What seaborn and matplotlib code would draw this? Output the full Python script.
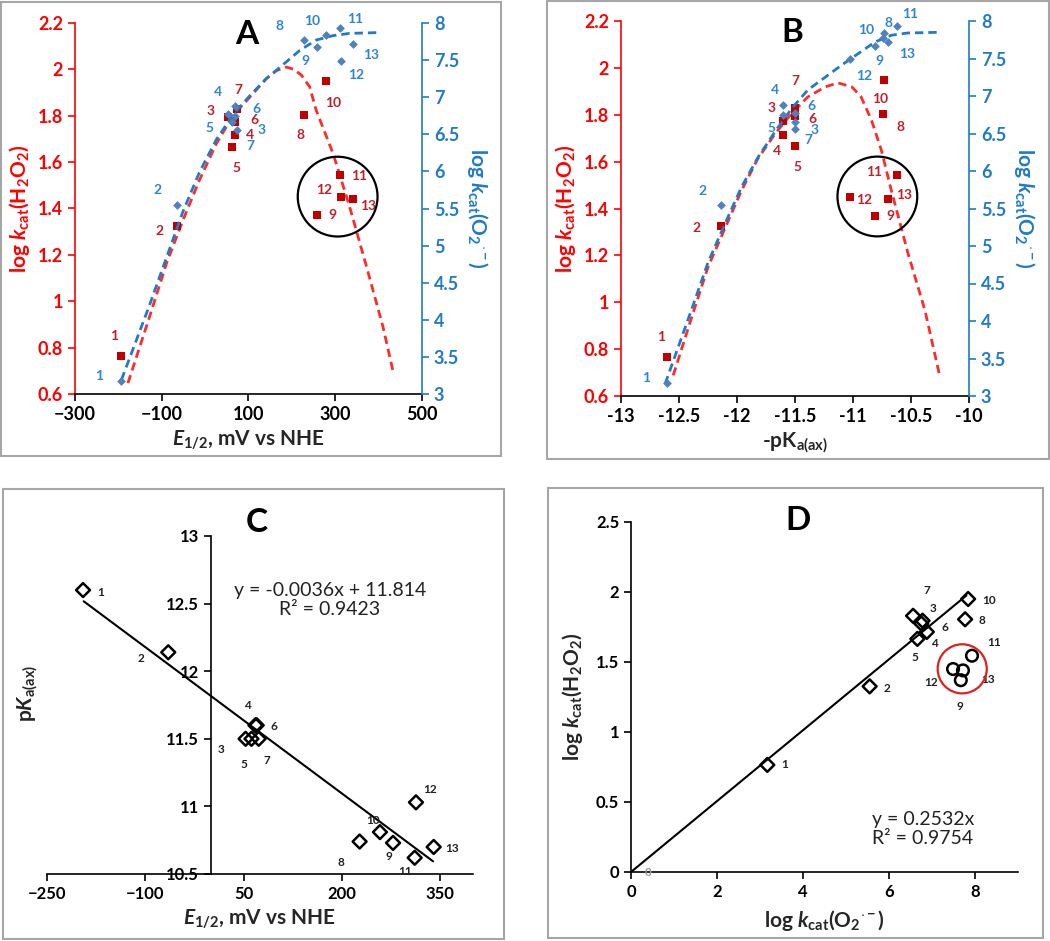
import matplotlib
matplotlib.use("Agg")
import matplotlib.pyplot as plt
from matplotlib.patches import Rectangle
import numpy as np
import seaborn as sns

# compounds 1-13
compound = [str(i) for i in range(1, 14)]
e_half = [-195, -65, 68, 70, 62, 53, 73, 227, 258, 278, 311, 313, 340]
pka_ax = [12.60, 12.14, 11.60, 11.60, 11.50, 11.50, 11.50, 10.74, 10.81, 10.73, 10.62, 11.03, 10.70]
log_kcat_h2o2 = [0.765, 1.326, 1.775, 1.715, 1.665, 1.795, 1.830, 1.805, 1.370, 1.950, 1.545, 1.450, 1.440]
log_kcat_o2 = [3.17, 5.55, 6.75, 6.88, 6.66, 6.78, 6.56, 7.77, 7.67, 7.84, 7.93, 7.49, 7.72]
circled = ["9", "11", "12", "13"]
neg_pka = [-p for p in pka_ax]

curve_a_red_x = [-178, -128, -89, -51, -13, 26, 64, 103, 141, 165, 187, 205, 222, 241, 256, 295, 333, 372, 410, 435]
curve_a_red_y = [0.647, 0.934, 1.164, 1.35, 1.523, 1.68, 1.80, 1.88, 1.960, 1.995, 2.010, 2.000, 1.975, 1.925,
                 1.824, 1.637, 1.408, 1.15, 0.89, 0.683]
curve_a_blue_x = [-193, -128, -89, -51, -13, 26, 64, 103, 141, 180, 218, 256, 295, 333, 395]
curve_a_blue_y = [3.19, 4.20, 4.84, 5.46, 5.99, 6.43, 6.76, 7.02, 7.25, 7.44, 7.63, 7.77, 7.83, 7.86, 7.87]
curve_b_red_x = [-12.55, -12.39, -12.25, -12.10, -11.96, -11.82, -11.67, -11.53, -11.39, -11.24, -11.13,
                 -11.01, -10.93, -10.84, -10.755, -10.67, -10.525, -10.38, -10.25]
curve_b_red_y = [0.688, 0.937, 1.15, 1.32, 1.478, 1.613, 1.72, 1.805, 1.876, 1.919, 1.936,
                 1.919, 1.876, 1.776, 1.648, 1.478, 1.207, 0.966, 0.68]
curve_b_blue_x = [-12.62, -12.39, -12.25, -12.10, -11.96, -11.82, -11.67, -11.53, -11.39, -11.24, -11.10,
                  -10.96, -10.81, -10.67, -10.53, -10.24]
curve_b_blue_y = [3.16, 4.16, 4.78, 5.31, 5.79, 6.18, 6.53, 6.83, 7.08, 7.25, 7.41, 7.56, 7.72, 7.81, 7.84, 7.85]

# trend lines
fit_c_x = [-194, 339]
fit_c_y = [12.517, 10.594]
fit_d_x = [0, 7.8]
fit_d_y = [0, 1.975]

# label offsets in pixels (dx, dy)
off_a_red = [(-6, 20), (-17, -5), (-24, 11), (14, 0), (4, -21), (26, -3), (2, 19), (-3, -20), (15, 0),
             (7, -22), (19, -1), (-17, 7), (15, -7)]
off_a_blue = [(-21, 5), (-19, 15), (27, -14), (-18, 14), (-23, -6), (28, 5), (14, -16), (-24, 14),
              (-12, -14), (-14, 14), (15, 9), (15, -14), (18, -11)]
off_b_red = [(-6, 20), (-24, -2), (-12, 13), (-6, -16), (2, -21), (17, -3), (0, 27), (17, -13), (15, 0),
             (-4, -19), (-23, 3), (15, -3), (16, 4)]
off_b_blue = [(-21, 5), (-18, 14), (31, -15), (-8, 15), (-24, -6), (16, 7), (13, -11), (5, 15), (4, -15),
              (-18, 3), (13, 12), (15, -17), (19, -12)]
off_c = [(18, -2), (-27, -6), (-34, -24), (-9, 20), (-8, -26), (28, 12), (8, -22), (-19, -21), (9, -24),
         (-20, 22), (-10, -14), (14, 13), (18, -2)]
off_d = [(17, 0), (17, -2), (12, 15), (8, -12), (-3, -19), (22, -7), (14, 25), (17, -1), (-1, -26),
         (21, -1), (22, 13), (-22, -14), (25, -9)]

RED = "#FF0000"
DARKRED = "#C00000"
BLUE = "#1F7BC8"
BLUE_MK = "#4F81BD"

sns.set_theme(style="white")
plt.rcParams["font.family"] = ["Lato", "DejaVu Sans"]
plt.rcParams["font.weight"] = "bold"
plt.rcParams["axes.labelweight"] = "bold"
plt.rcParams["mathtext.fontset"] = "custom"
plt.rcParams["mathtext.rm"] = "Lato:bold"
plt.rcParams["mathtext.it"] = "Lato:bold:italic"
plt.rcParams["mathtext.bf"] = "Lato:bold"

W, H = 1050, 941
fig = plt.figure(figsize=(W / 100, H / 100), dpi=100)


def add_ax(left, right, top, bottom):
    return fig.add_axes([left / W, 1 - bottom / H, (right - left) / W, (bottom - top) / H])


def label_points(ax, xs, ys, offsets, color, size):
    for name, x, y, (dx, dy) in zip(compound, xs, ys, offsets):
        ax.annotate(name, (x, y), xytext=(dx, dy), textcoords="offset pixels",
                    ha="center", va="center", color=color, fontsize=size, fontweight="bold")


def circle_mark(ax, xs, ys, size, color):
    idx = [compound.index(c) for c in circled]
    cx = np.mean([xs[i] for i in idx])
    cy = np.mean([ys[i] for i in idx])
    ax.scatter([cx], [cy], s=size, facecolors="none", edgecolors=color, linewidths=1.6, zorder=5)


def dual_panel(ax, x, xlim, xticks, red_cx, red_cy, blue_cx, blue_cy, off_r, off_b, xlabel):
    ax2 = ax.twinx()
    sns.lineplot(x=red_cx, y=red_cy, sort=False, ax=ax, color="#FF2A2A", lw=2, dashes=(3, 1.8))
    sns.scatterplot(x=x, y=log_kcat_h2o2, ax=ax, marker="s", s=38, color=DARKRED, linewidth=0, zorder=4)
    sns.lineplot(x=blue_cx, y=blue_cy, sort=False, ax=ax2, color=BLUE, lw=2, dashes=(3, 1.8))
    sns.scatterplot(x=x, y=log_kcat_o2, ax=ax2, marker="D", s=20, color=BLUE_MK, linewidth=0, zorder=4)
    label_points(ax, x, log_kcat_h2o2, off_r, "#C0202A", 10)
    label_points(ax2, x, log_kcat_o2, off_b, "#2E86D0", 10)
    circle_mark(ax, x, log_kcat_h2o2, 3300, "black")

    ax.set_xlim(*xlim)
    ax.set_xticks(xticks)
    ax.set_ylim(0.6, 2.2)
    ax.set_yticks(np.arange(0.6, 2.21, 0.2))
    ax.set_yticklabels([f"{v:g}" for v in np.round(np.arange(0.6, 2.21, 0.2), 1)])
    ax2.set_ylim(3, 8)
    ax2.set_yticks(np.arange(3, 8.01, 0.5))
    ax2.set_yticklabels([f"{v:g}" for v in np.arange(3, 8.01, 0.5)])

    for s in ["top", "right"]:
        ax.spines[s].set_visible(False)
    for s in ["top", "left", "bottom"]:
        ax2.spines[s].set_visible(False)
    ax.spines["left"].set_color(RED)
    ax.spines["left"].set_linewidth(1.2)
    ax.spines["bottom"].set_color("black")
    ax.spines["bottom"].set_linewidth(1.2)
    ax2.spines["right"].set_color(BLUE)
    ax2.spines["right"].set_linewidth(1.2)
    ax.tick_params(axis="y", colors=RED, labelsize=13, direction="out", length=5, width=1.2, left=True)
    ax.tick_params(axis="x", colors="black", labelsize=13, direction="out", length=5, width=1.2, bottom=True)
    ax2.tick_params(axis="y", colors=BLUE, labelsize=13, direction="out", length=5, width=1.2, right=True)
    ax.set_ylabel(r"log $k_{\mathrm{cat}}$(H$_2$O$_2$)", color=RED, fontsize=15, labelpad=4)
    ax2.set_ylabel(r"log $k_{\mathrm{cat}}$(O$_2$$^{\cdot -}$)", color=BLUE, fontsize=15,
                   rotation=270, labelpad=22)
    ax.set_xlabel(xlabel, fontsize=15, labelpad=4)
    ax.grid(False)
    ax2.grid(False)


# panel A
axA = add_ax(75, 422, 23, 394)
dual_panel(axA, e_half, (-300, 500), [-300, -100, 100, 300, 500],
           curve_a_red_x, curve_a_red_y, curve_a_blue_x, curve_a_blue_y,
           off_a_red, off_a_blue, r"$E_{1/2}$, mV vs NHE")

# panel B
axB = add_ax(621, 969, 21, 396)
dual_panel(axB, neg_pka, (-13, -10), [-13, -12.5, -12, -11.5, -11, -10.5, -10],
           curve_b_red_x, curve_b_red_y, curve_b_blue_x, curve_b_blue_y,
           off_b_red, off_b_blue, r"-pK$_{\mathrm{a(ax)}}$")
axB.set_xticklabels(["-13", "-12.5", "-12", "-11.5", "-11", "-10.5", "-10"])

# panel C
axC = add_ax(47, 473, 536, 874)
sns.lineplot(x=fit_c_x, y=fit_c_y, ax=axC, color="black", lw=1.5)
sns.scatterplot(x=e_half, y=pka_ax, ax=axC, marker="D", s=50, facecolor="none",
                edgecolor="black", linewidth=1.8, zorder=4)
label_points(axC, e_half, pka_ax, off_c, "#222222", 8.5)
axC.set_xlim(-250, 400)
axC.set_xticks([-250, -100, 50, 200, 350])
axC.set_ylim(10.5, 13)
axC.set_yticks([10.5, 11, 11.5, 12, 12.5, 13])
axC.set_yticklabels(["10.5", "11", "11.5", "12", "12.5", "13"])
axC.spines["left"].set_position(("data", 0))
for s in ["top", "right"]:
    axC.spines[s].set_visible(False)
for s in ["left", "bottom"]:
    axC.spines[s].set_color("black")
    axC.spines[s].set_linewidth(1.2)
axC.tick_params(labelsize=12, direction="out", length=5, width=1.2, left=True, bottom=True, colors="black")
axC.set_xlabel(r"$E_{1/2}$, mV vs NHE", fontsize=15, labelpad=4)
axC.set_ylabel(r"p$K_{\mathrm{a(ax)}}$", fontsize=15)
axC.yaxis.label.set_verticalalignment("center")
axC.yaxis.set_label_coords(-0.045, 0.535)
axC.text(0.664, 0.81, "y = -0.0036x + 11.814\nR\u00b2 = 0.9423", transform=axC.transAxes,
         ha="center", va="center", fontsize=14, fontweight="normal", linespacing=1.15, color="#222222")
axC.grid(False)

# panel D
axD = add_ax(631, 1018, 522, 872)
sns.lineplot(x=fit_d_x, y=fit_d_y, ax=axD, color="black", lw=1.5)
is_circ = [c in circled for c in compound]
dx_open = [v for v, c in zip(log_kcat_o2, is_circ) if not c]
dy_open = [v for v, c in zip(log_kcat_h2o2, is_circ) if not c]
cx_open = [v for v, c in zip(log_kcat_o2, is_circ) if c]
cy_open = [v for v, c in zip(log_kcat_h2o2, is_circ) if c]
sns.scatterplot(x=dx_open, y=dy_open, ax=axD, marker="D", s=50, facecolor="none",
                edgecolor="black", linewidth=1.8, zorder=4)
sns.scatterplot(x=cx_open, y=cy_open, ax=axD, marker="o", s=70, facecolor="none",
                edgecolor="black", linewidth=1.8, zorder=4)
label_points(axD, log_kcat_o2, log_kcat_h2o2, off_d, "#222222", 8.5)
axD.annotate("0", (0, 0), xytext=(17, 0), textcoords="offset pixels", ha="center", va="center",
             fontsize=8.5, color="#999999")
circle_mark(axD, log_kcat_o2, log_kcat_h2o2, 1250, "#E02020")
axD.set_xlim(0, 9)
axD.set_xticks([0, 2, 4, 6, 8])
axD.set_ylim(0, 2.5)
axD.set_yticks([0, 0.5, 1, 1.5, 2, 2.5])
axD.set_yticklabels(["0", "0.5", "1", "1.5", "2", "2.5"])
for s in ["top", "right"]:
    axD.spines[s].set_visible(False)
for s in ["left", "bottom"]:
    axD.spines[s].set_color("black")
    axD.spines[s].set_linewidth(1.2)
axD.tick_params(labelsize=12, direction="out", length=5, width=1.2, left=True, bottom=True, colors="black")
axD.set_xlabel(r"log $k_{\mathrm{cat}}$(O$_2$$^{\cdot -}$)", fontsize=15, labelpad=6)
axD.set_ylabel(r"log $k_{\mathrm{cat}}$(H$_2$O$_2$)", fontsize=15, labelpad=8)
axD.text(0.623, 0.124, "y = 0.2532x\nR\u00b2 = 0.9754", transform=axD.transAxes,
         ha="left", va="center", fontsize=14, fontweight="normal", linespacing=1.15, color="#222222")
axD.grid(False)

# panel letters
for letter, px, py in [("A", 247, 35), ("B", 792, 33), ("C", 257, 522), ("D", 798, 520)]:
    fig.text(px / W, 1 - py / H, letter, ha="center", va="center", fontsize=24, fontweight="bold", color="black")

# gray panel frames
for x0, y0, x1, y1 in [(1, 2, 501, 456), (547, 1, 1049, 459), (3, 489, 504, 939), (548, 488, 1043, 938)]:
    fig.add_artist(Rectangle((x0 / W, 1 - y1 / H), (x1 - x0) / W, (y1 - y0) / H, transform=fig.transFigure,
                             fill=False, ec="#A6A6A6", lw=1.5))

fig.savefig("out.png", dpi=100)
